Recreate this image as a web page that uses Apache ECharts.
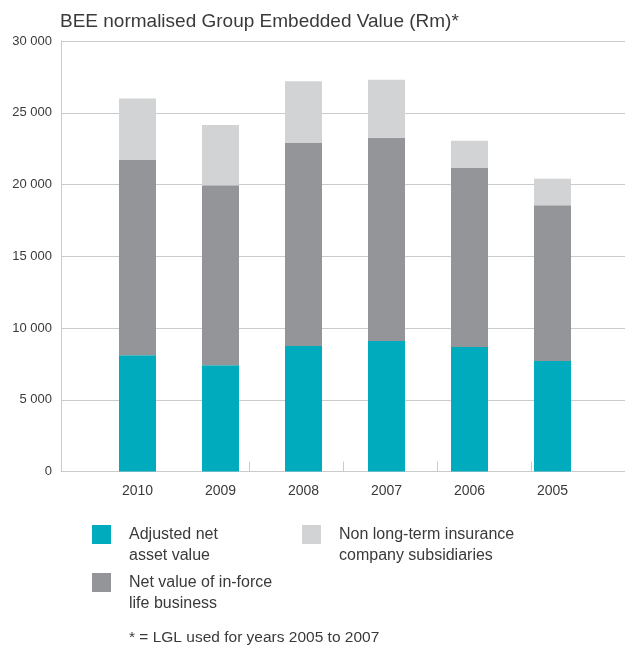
<!DOCTYPE html>
<html>
<head>
<meta charset="utf-8">
<script src="https://cdn.jsdelivr.net/npm/echarts@6/dist/echarts.min.js"></script>
<style>
  html, body { margin: 0; padding: 0; background: #fff; }
  #chart { width: 625px; height: 650px; }
</style>
</head>
<body>
<div id="chart"></div>
<script>
// Embedded value components by year (Rm)
const categories = ['2010', '2009', '2008', '2007', '2006', '2005'];
const adjustedNetAsset = [8100, 7400, 8750, 9100, 8680, 7700];
const netValueInForce = [13600, 12550, 14150, 14150, 12470, 10850];
const nonLongTermSubs = [4300, 4200, 4300, 4050, 1900, 1850];
const yTicks = { min: 0, max: 30000, interval: 5000 };

const seriesNames = [
  'Adjusted net\nasset value',
  'Net value of in-force\nlife business',
  'Non long-term insurance\ncompany subsidiaries'
];
const colors = ['#00abbd', '#949599', '#d1d3d4'];

const FONT = "'Liberation Sans Narrow', 'Arial Narrow', 'Liberation Sans', Arial, sans-serif";
const TEXT = '#3a3a3a';
const GRIDLINE = '#cbcbcb';

const chart = echarts.init(document.getElementById('chart'), null, { renderer: 'canvas' });

// One legend per entry so each swatch can sit where it belongs;
// the leading blank line keeps the first text line level with the swatch.
function legendAt(name, left, top) {
  return {
    data: [name],
    left: left,
    top: top,
    orient: 'vertical',
    padding: 0,
    icon: 'rect',
    itemWidth: 19,
    itemHeight: 19,
    selectedMode: false,
    formatter: n => '\n' + n,
    textStyle: {
      fontFamily: FONT,
      fontSize: 16,
      lineHeight: 21,
      color: TEXT,
      padding: [0, 0, 0, 13]
    }
  };
}

const option = {
  animation: false,
  textStyle: { fontFamily: FONT },
  title: [
    {
      text: 'BEE normalised Group Embedded Value (Rm)*',
      left: 60,
      top: 12,
      padding: 0,
      textStyle: { fontFamily: FONT, fontSize: 19, fontWeight: 'normal', color: TEXT }
    },
    {
      text: '* = LGL used for years 2005 to 2007',
      left: 129,
      top: 630,
      padding: 0,
      textStyle: { fontFamily: FONT, fontSize: 15.5, fontWeight: 'normal', color: TEXT }
    }
  ],
  legend: [
    legendAt(seriesNames[0], 92, 503),
    legendAt(seriesNames[1], 92, 551),
    legendAt(seriesNames[2], 302, 503)
  ],
  grid: [
    // frame: value axis, gridlines and the baseline with its short ticks
    { left: 61, right: 0, top: 41, bottom: 178.5 },
    // bars and year labels
    { left: 96, right: 31, top: 41, bottom: 178.5 }
  ],
  xAxis: [
    {
      gridIndex: 0,
      type: 'category',
      data: categories.map(() => ''),
      boundaryGap: true,
      axisLine: { show: true, lineStyle: { color: GRIDLINE, width: 1 } },
      axisTick: { show: true, inside: true, length: 10, lineStyle: { color: GRIDLINE } },
      axisLabel: { show: false }
    },
    {
      gridIndex: 1,
      type: 'category',
      data: categories,
      axisLine: { show: false },
      axisTick: { show: false },
      axisLabel: { margin: 13, fontFamily: FONT, fontSize: 14, color: TEXT }
    }
  ],
  yAxis: [
    {
      gridIndex: 0,
      type: 'value',
      min: yTicks.min,
      max: yTicks.max,
      interval: yTicks.interval,
      axisLine: { show: true, lineStyle: { color: GRIDLINE, width: 1 } },
      axisTick: { show: false },
      splitLine: { show: true, lineStyle: { color: GRIDLINE, width: 1 } },
      axisLabel: {
        margin: 9,
        fontFamily: FONT,
        fontSize: 13,
        color: TEXT,
        formatter: v => String(v).replace(/\B(?=(\d{3})+(?!\d))/g, ' ')
      }
    },
    {
      gridIndex: 1,
      type: 'value',
      min: yTicks.min,
      max: yTicks.max,
      interval: yTicks.interval,
      show: false,
      splitLine: { show: false }
    }
  ],
  series: [
    { name: seriesNames[0], data: adjustedNetAsset },
    { name: seriesNames[1], data: netValueInForce },
    { name: seriesNames[2], data: nonLongTermSubs }
  ].map((s, i) => ({
    name: s.name,
    type: 'bar',
    stack: 'ev',
    xAxisIndex: 1,
    yAxisIndex: 1,
    barWidth: 37,
    itemStyle: { color: colors[i] },
    data: s.data
  }))
};

chart.setOption(option);
</script>
</body>
</html>
